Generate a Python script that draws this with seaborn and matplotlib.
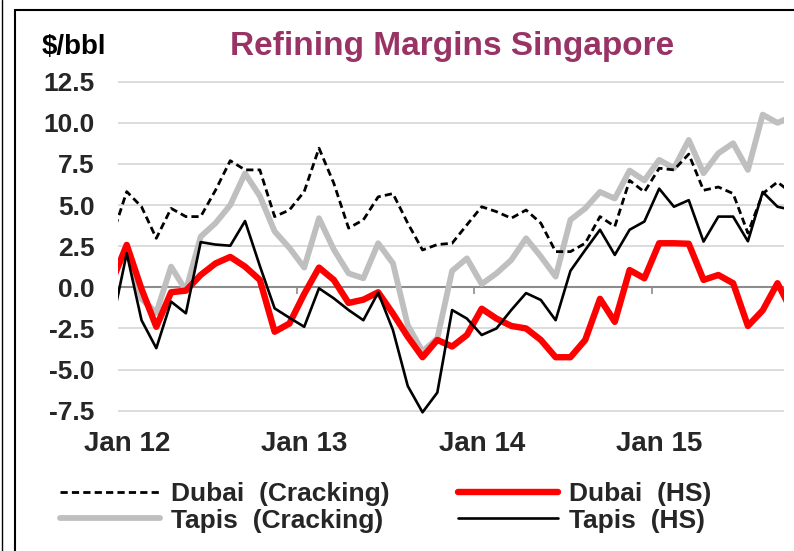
import numpy as np
import pandas as pd
import seaborn as sns
import matplotlib
matplotlib.use("Agg")
import matplotlib.pyplot as plt
from matplotlib.lines import Line2D

# ---- data (monthly, Dec 2011 .. Oct 2015) ----
months = pd.date_range("2011-12-01", "2015-10-01", freq="MS")
month_index = list(range(-1, len(months) - 1))   # 0 = Jan 2012

dubai_cracking = [3.07, 5.82, 4.9, 2.98, 4.8, 4.3, 4.3, 5.9, 7.7, 7.14, 7.14, 4.3, 4.7,
                  5.82, 8.46, 6.33, 3.6, 4.1, 5.5, 5.7, 3.9, 2.27, 2.6, 2.68, 3.8,
                  4.9, 4.6, 4.2, 4.7, 3.9, 2.17, 2.17, 2.68, 4.3, 3.7, 6.5, 5.8,
                  7.24, 7.14, 8.1, 5.9, 6.1, 5.7, 3.3, 5.7, 6.4, 5.7]
dubai_hs = [0.34, 2.58, -0.1, -2.4, -0.3, -0.2, 0.75, 1.45, 1.85, 1.26, 0.45, -2.7, -2.2,
            -0.4, 1.2, 0.45, -0.95, -0.75, -0.3, -1.6, -3.0, -4.25, -3.2, -3.6, -2.9,
            -1.3, -1.9, -2.35, -2.5, -3.2, -4.25, -4.25, -3.2, -0.7, -2.1, 1.05, 0.55,
            2.68, 2.68, 2.65, 0.45, 0.75, 0.25, -2.35, -1.4, 0.25, -1.5]
tapis_cracking = [0.4, 2.47, -0.7, -1.55, 1.26, -0.2, 3.08, 3.9, 5.0, 6.93, 5.55, 3.4, 2.4,
                  1.2, 4.2, 2.3, 0.85, 0.55, 2.68, 1.46, -2.3, -3.9, -3.1, 1.0, 1.76,
                  0.2, 0.85, 1.66, 2.98, 1.87, 0.65, 4.1, 4.8, 5.8, 5.4, 7.1, 6.5,
                  7.75, 7.24, 8.96, 6.94, 8.15, 8.76, 7.14, 10.5, 10.0, 10.4]
tapis_hs = [-2.24, 2.07, -2.0, -3.7, -0.87, -1.58, 2.75, 2.6, 2.53, 4.03, 1.3, -1.28, -1.85,
            -2.4, -0.06, -0.67, -1.38, -2.0, -0.32, -2.6, -6.0, -7.6, -6.4, -1.38, -1.9,
            -2.9, -2.5, -1.38, -0.35, -0.77, -2.0, 1.0, 2.27, 3.5, 1.97, 3.5, 4.0,
            6.0, 4.9, 5.3, 2.78, 4.3, 4.3, 2.8, 5.8, 4.9, 4.7]

series_names = ["Dubai  (Cracking)", "Tapis  (Cracking)", "Dubai  (HS)", "Tapis  (HS)"]
series_values = [dubai_cracking, tapis_cracking, dubai_hs, tapis_hs]

xtick_pos = [0, 12, 24, 36]
xtick_labels = ["Jan 12", "Jan 13", "Jan 14", "Jan 15"]
ytick_vals = [12.5, 10.0, 7.5, 5.0, 2.5, 0.0, -2.5, -5.0, -7.5]

df = pd.concat([pd.DataFrame({"idx": month_index, "val": v, "series": n})
                for n, v in zip(series_names, series_values)], ignore_index=True)

# ---- styling ----
sns.set_theme(style="white")
plt.rcParams["font.family"] = ["Liberation Sans", "DejaVu Sans"]
plt.rcParams["font.weight"] = "bold"
plt.rcParams["axes.unicode_minus"] = False

W, H = 794, 551
fig = plt.figure(figsize=(W / 100, H / 100), dpi=100)
ylo, yhi = -7.8, 12.6
xlo, xhi = -0.59, 44.44
ax = fig.add_axes([118 / W, 1 - 415.6 / H, (784 - 118) / W, (415.6 - 80.1) / H])

styles = {
    "Tapis  (Cracking)": dict(color="#BFBFBF", linewidth=4.2, zorder=2),
    "Dubai  (HS)": dict(color="#FF0000", linewidth=4.6, zorder=3),
    "Dubai  (Cracking)": dict(color="black", linewidth=2.0, linestyle=(0, (2.6, 1.5)), zorder=4),
    "Tapis  (HS)": dict(color="black", linewidth=1.9, zorder=5),
}
for name in series_names:
    sub = df[df["series"] == name]
    sns.lineplot(data=sub, x="idx", y="val", ax=ax, label=name, **styles[name])

ax.set_xlim(xlo, xhi)
ax.set_ylim(ylo, yhi)
ax.set_yticks(ytick_vals)
ax.set_yticklabels([f"{v:.1f}" for v in ytick_vals])
ax.set_xticks(xtick_pos)
ax.set_xticklabels(xtick_labels)
ax.tick_params(axis="y", length=0, pad=17, labelsize=19)
ax.tick_params(axis="x", length=0, pad=11, labelsize=20)
for lab in ax.get_xticklabels() + ax.get_yticklabels():
    lab.set_fontweight("bold")
ax.set_xlabel("")
ax.set_ylabel("")
ax.grid(axis="y", color="#D9D9D9", linewidth=1.3)
ax.grid(axis="x", visible=False)
for s in ax.spines.values():
    s.set_visible(False)
ax.axhline(0, color="#8C8C8C", linewidth=1.5, zorder=1.5)

# category tick marks on the zero line
zero_frac = (0 - ylo) / (yhi - ylo)
secax = ax.secondary_xaxis(zero_frac)
secax.set_xticks([-0.5, 11.5, 23.5, 35.5])
secax.set_xticklabels([])
secax.tick_params(axis="x", direction="out", length=5, width=1.2, color="#8C8C8C")
secax.spines["bottom"].set_visible(False)
secax.spines["top"].set_visible(False)

# legend
handles, labels = ax.get_legend_handles_labels()
order = [labels.index(n) for n in series_names]
ax.get_legend().remove()
fig.legend([handles[i] for i in order], [labels[i] for i in order], ncol=2,
           loc="upper left", bbox_to_anchor=(60 / W, 1 - 482 / H), frameon=False,
           borderpad=0, borderaxespad=0, handlelength=3.8, handletextpad=0.4,
           columnspacing=2.6, labelspacing=0.1,
           prop={"size": 19, "weight": "bold"})

# titles
fig.text(452 / W, 1 - 47 / H, "Refining Margins Singapore", ha="center", va="center",
         fontsize=24, fontweight="bold", color="#993366")
fig.text(42 / W, 1 - 47 / H, "$/bbl", ha="left", va="center", fontsize=20,
         fontweight="bold", color="black")

# frame lines
fig.add_artist(Line2D([2 / W, 2 / W], [0, 1], color="black", linewidth=1.0))
fig.add_artist(Line2D([15 / W, 15 / W], [0, 1 - 10 / H], color="black", linewidth=1.5))
fig.add_artist(Line2D([15 / W, 1], [1 - 10 / H, 1 - 10 / H], color="black", linewidth=1.5))

fig.savefig("out.png", dpi=100)
